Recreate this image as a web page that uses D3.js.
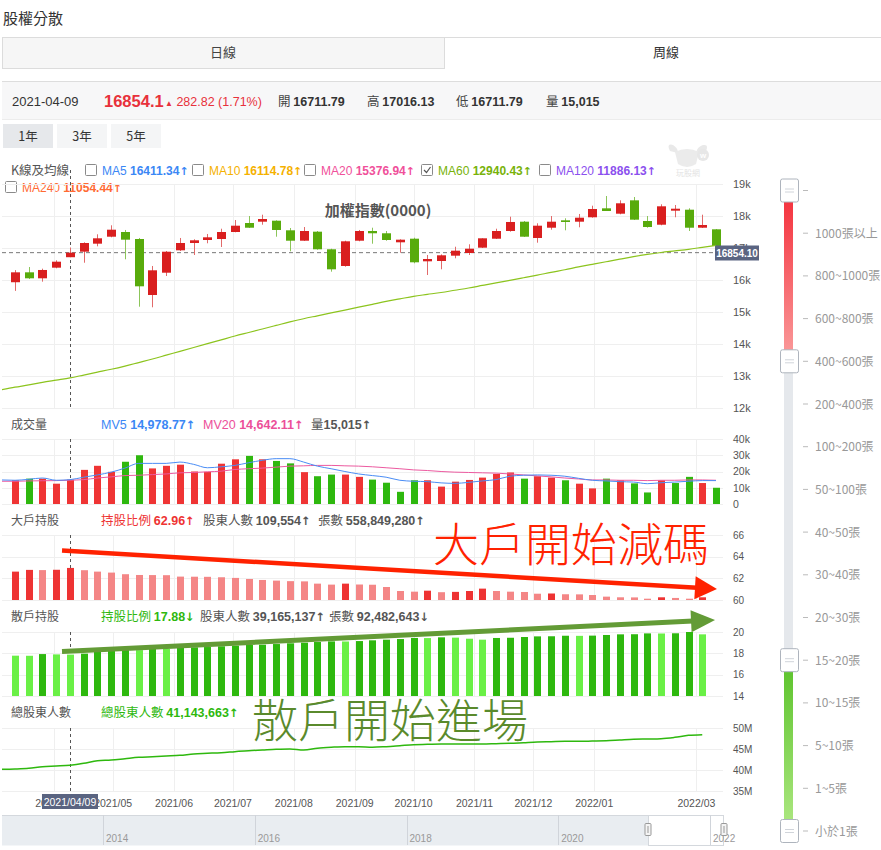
<!DOCTYPE html>
<html>
<head>
<meta charset="utf-8">
<script src="https://cdn.jsdelivr.net/npm/d3@7"></script>
<style>
  body { margin: 0; background: #fff; }
  svg { display: block; }
</style>
</head>
<body>
<svg id="chart" width="881" height="850"></svg>
<script>
// weekly data (Fridays). weeks[0] is the week just left of the zoom window
const weeks = [
  '2021/03/05', '2021/03/12', '2021/03/19', '2021/03/26', '2021/04/02', '2021/04/09', '2021/04/16',
  '2021/04/23', '2021/04/30', '2021/05/07', '2021/05/14', '2021/05/21', '2021/05/28', '2021/06/04',
  '2021/06/11', '2021/06/18', '2021/06/25', '2021/07/02', '2021/07/09', '2021/07/16', '2021/07/23',
  '2021/07/30', '2021/08/06', '2021/08/13', '2021/08/20', '2021/08/27', '2021/09/03', '2021/09/10',
  '2021/09/17', '2021/09/24', '2021/10/01', '2021/10/08', '2021/10/15', '2021/10/22', '2021/10/29',
  '2021/11/05', '2021/11/12', '2021/11/19', '2021/11/26', '2021/12/03', '2021/12/10', '2021/12/17',
  '2021/12/24', '2021/12/31', '2022/01/07', '2022/01/14', '2022/01/21', '2022/01/28', '2022/02/11',
  '2022/02/18', '2022/02/25', '2022/03/04', '2022/03/11'
];

// candles: weeks[1] .. weeks[52]
const candleOpen = [15930, 16240, 16053, 16385, 16711.79, 16885, 17135, 17353, 17500, 17281, 15531, 16228, 16928,
  17156, 17250, 17281, 17500, 17781, 17822, 17853, 17553, 17228, 17510, 16960, 16438, 17228, 17531, 17460, 17178,
  17291, 16584, 16594, 16760, 16844, 17010, 17290, 17531, 17822, 17313, 17634, 17865, 17822, 17960, 18240, 18072,
  18490, 17844, 17728, 18166, 18197, 17634, 17584];
const candleClose = [16240, 16053, 16313, 16572, 16854.1, 17156, 17303, 17572, 17260, 15803, 16303, 16884, 17156,
  17241, 17334, 17500, 17697, 17634, 17906, 17563, 17228, 17531, 16960, 16334, 17209, 17531, 17460, 17250, 17260,
  16553, 16656, 16772, 16916, 16978, 17303, 17531, 17813, 17353, 17697, 17822, 17813, 17947, 18219, 18156, 18397,
  17885, 17656, 18303, 18228, 17634, 17719, 17063];
const candleHigh = [16310, 16406, 16354, 16615, 17016.13, 17178, 17428, 17709, 17563, 17313, 16438, 16906, 17313,
  17272, 17438, 17603, 17875, 18000, 18041, 17865, 17625, 17656, 17531, 16978, 17228, 17563, 17634, 17531, 17272,
  17322, 16781, 16800, 17040, 17116, 17303, 17603, 17978, 17844, 17772, 18000, 17928, 18063, 18322, 18625, 18490,
  18594, 18000, 18366, 18344, 18241, 18041, 17594];
const candleLow = [15660, 16030, 15948, 16365, 16711.79, 16540, 17053, 17334, 16647, 15166, 15147, 16125, 16906,
  16781, 17147, 17031, 17490, 17625, 17728, 17353, 16897, 17219, 16947, 16260, 16416, 17209, 17134, 17228, 16853,
  16522, 16156, 16334, 16678, 16781, 17000, 17281, 17510, 17344, 17166, 17572, 17553, 17647, 17947, 18156, 18053,
  17875, 17634, 17709, 17960, 17531, 17625, 17053];

// MA60: weeks[0] .. weeks[52]
const ma60 = [12570, 12650, 12720, 12800, 12870, 12940, 13030, 13120, 13210, 13310, 13420, 13530, 13650, 13770,
  13890, 14010, 14130, 14250, 14360, 14470, 14580, 14690, 14790, 14880, 14970, 15060, 15150, 15240, 15330, 15410,
  15490, 15550, 15610, 15680, 15750, 15830, 15910, 15990, 16070, 16150, 16240, 16320, 16410, 16490, 16570, 16650,
  16730, 16800, 16860, 16910, 16960, 17020, 17080];

// volume (張): weeks[1] .. weeks[52]
const volume = [14600, 15600, 15600, 12500, 15015, 21000, 23500, 19800, 26000, 30000, 21900, 23500, 24200, 20000,
  19800, 24800, 27500, 29600, 27500, 26500, 25000, 19600, 17100, 18100, 18100, 16700, 15000, 13100, 7500, 14600,
  14600, 10700, 13750, 14800, 16250, 18500, 19400, 15600, 17100, 16250, 14600, 12500, 9600, 15600, 14600, 12700,
  7100, 14600, 12900, 16700, 12900, 10000];
const volSide = ['u', 'd', 'u', 'u', 'u', 'u', 'u', 'u', 'd', 'd', 'u', 'u', 'u', 'u', 'u', 'u', 'u', 'd', 'u', 'd',
  'd', 'u', 'd', 'd', 'u', 'u', 'd', 'd', 'd', 'd', 'u', 'u', 'u', 'u', 'u', 'u', 'u', 'd', 'u', 'u', 'd', 'u', 'u',
  'd', 'u', 'd', 'd', 'u', 'd', 'd', 'u', 'd'];
// MV5 / MV20: weeks[0] .. weeks[52]
const mv5 = [14800, 14600, 15200, 16000, 14600, 14979, 16500, 17900, 19600, 22100, 25000, 25000, 25000, 25800, 24400,
  22300, 22900, 23750, 25400, 26900, 27900, 27900, 25800, 23300, 21700, 20000, 18500, 17500, 16500, 14600, 14000,
  13750, 13000, 12700, 13300, 14200, 15000, 17100, 17700, 17900, 17700, 17100, 15800, 14600, 14200, 13750, 13500,
  12500, 13100, 13500, 14000, 14400, 14400];
const mv20 = [14000, 14000, 14200, 14300, 14400, 14642, 15000, 16000, 16700, 17500, 17700, 18100, 18500, 19200, 19400,
  19800, 20200, 21250, 21700, 22100, 22700, 23300, 23500, 23750, 23750, 23500, 23300, 22900, 22300, 21700, 21000,
  20600, 20000, 19600, 19400, 19200, 19000, 18500, 17900, 17300, 16700, 16000, 15400, 14800, 14800, 14600, 14600,
  14400, 14600, 14600, 14800, 14800, 14600];

// shareholding (%): weeks[0] .. weeks[51]
const bigPct = [62.50, 62.62, 62.78, 62.76, 62.79, 62.96, 62.75, 62.62, 62.53, 62.38, 62.31, 62.30, 62.29, 62.16,
  62.15, 62.14, 62.10, 62.04, 61.94, 61.85, 61.79, 61.74, 61.72, 61.51, 61.42, 61.51, 61.43, 61.41, 61.20, 60.83,
  60.77, 60.86, 60.72, 60.75, 60.83, 61.05, 60.83, 60.77, 60.74, 60.58, 60.60, 60.53, 60.52, 60.46, 60.31, 60.25,
  60.24, 60.12, 60.25, 60.19, 60.12, 60.25];
const smallPct = [17.85, 17.78, 17.77, 17.93, 17.90, 17.88, 17.97, 18.15, 18.25, 18.31, 18.30, 18.44, 18.43, 18.53,
  18.56, 18.59, 18.66, 18.72, 18.78, 18.81, 18.87, 18.94, 19.00, 19.06, 19.12, 19.11, 19.15, 19.22, 19.28, 19.34,
  19.44, 19.43, 19.50, 19.47, 19.37, 19.28, 19.44, 19.46, 19.53, 19.59, 19.60, 19.65, 19.64, 19.66, 19.72, 19.78,
  19.79, 19.87, 19.86, 19.88, 20.00, 19.78];
// total shareholders (millions): weeks[0] .. weeks[51]
const holders = [40.16, 40.24, 40.40, 40.79, 40.95, 41.14, 41.59, 42.22, 42.38, 42.70, 43.02, 43.17, 43.33, 43.49,
  43.81, 43.97, 44.13, 44.37, 44.60, 44.76, 44.92, 45.00, 44.76, 45.16, 45.40, 45.56, 45.56, 45.40, 45.56, 45.79,
  46.03, 46.11, 46.19, 46.19, 46.19, 46.19, 46.27, 46.35, 46.51, 46.67, 46.75, 46.83, 46.83, 46.90, 46.98, 47.14,
  47.30, 47.38, 47.46, 47.78, 48.25, 48.41];

const monthTicks = ['2021/04/01', '2021/05/01', '2021/06/01', '2021/07/01', '2021/08/01', '2021/09/01',
  '2021/10/01', '2021/11/01', '2021/12/01', '2022/01/01', '2022/03/01'];
const priceTicks = [12000, 13000, 14000, 15000, 16000, 17000, 18000, 19000];
const volTicks = [0, 10000, 20000, 30000, 40000];
const bigTicks = [60, 62, 64, 66];
const smallTicks = [14, 16, 18, 20];
const totalTicks = [35, 40, 45, 50];
const levelLabels = ['', '1000張以上', '800~1000張', '600~800張', '400~600張', '200~400張', '100~200張', '50~100張',
  '40~50張', '30~40張', '20~30張', '15~20張', '10~15張', '5~10張', '1~5張', '小於1張'];
const handleLevels = [0, 4, 11, 15];
const zoomYears = ['2014', '2016', '2018', '2020', '2022'];

const hoverWeek = '2021/04/09';
const hoverClose = 16854.1;

const FONT = '"Liberation Sans", Helvetica, Arial, "Noto Sans CJK TC", sans-serif';
const CJK = '"Noto Sans CJK TC", sans-serif';
const ARROW = 'DejaVu Sans';
const RED = '#d91f1f', GREEN = '#58ab0c';
const VOL_RED = '#ef3434', VOL_GREEN = '#2eb80e';
const GRID = '#efefef';
const SLATE = '#5a6481';

const svg = d3.select('#chart').style('font-family', FONT);
const defs = svg.append('defs');

// ---------- page header ----------
svg.append('text').attr('x', 3).attr('y', 24).text('股權分散')
  .style('font-family', CJK).style('font-size', '15px').attr('fill', '#333');

svg.append('rect').attr('x', 2.5).attr('y', 37.5).attr('width', 442).attr('height', 31)
  .attr('fill', '#f6f6f6').attr('stroke', '#dcdcdc');
svg.append('path').attr('d', 'M444.5,68 V37.5 H881').attr('fill', 'none').attr('stroke', '#dcdcdc');
svg.append('text').attr('x', 223).attr('y', 57).attr('text-anchor', 'middle').text('日線')
  .style('font-family', CJK).style('font-size', '13px').attr('fill', '#444');
svg.append('text').attr('x', 666).attr('y', 57).attr('text-anchor', 'middle').text('周線')
  .style('font-family', CJK).style('font-size', '13px').attr('fill', '#333');

svg.append('rect').attr('x', 2).attr('y', 81).attr('width', 879).attr('height', 38).attr('fill', '#f7f7f8');
svg.append('line').attr('x1', 2).attr('x2', 881).attr('y1', 81.5).attr('y2', 81.5).attr('stroke', '#dddddd');
svg.append('line').attr('x1', 2).attr('x2', 881).attr('y1', 119.5).attr('y2', 119.5).attr('stroke', '#ececec');

function richText(x, y, parts, size, family) {
  const t = svg.append('text').attr('x', x).attr('y', y)
    .style('font-size', size + 'px').style('font-family', family || FONT);
  parts.forEach(p => {
    t.append('tspan').text(p[0]).attr('fill', p[1] || '#333')
      .style('font-weight', p[2] || 'normal')
      .style('font-size', p[3] ? p[3] + 'px' : null)
      .style('font-family', p[4] || null);
  });
  return t;
}

richText(12, 106, [['2021-04-09', '#333']], 13);
richText(104, 107, [['16854.1', '#e8313b', 'bold', 16.5]], 16.5);
richText(165, 106, [['▲', '#e8313b', 'normal', 8], [' 282.82 (1.71%)', '#e8313b']], 12.5);
richText(278, 106, [['開 ', '#444', 'normal', null, CJK], ['16711.79', '#333', 'bold']], 12.5);
richText(367, 106, [['高 ', '#444', 'normal', null, CJK], ['17016.13', '#333', 'bold']], 12.5);
richText(456, 106, [['低 ', '#444', 'normal', null, CJK], ['16711.79', '#333', 'bold']], 12.5);
richText(546, 106, [['量 ', '#444', 'normal', null, CJK], ['15,015', '#333', 'bold']], 12.5);

[['1年', 3, '#e6e8eb'], ['3年', 57, '#f4f5f6'], ['5年', 111, '#f4f5f6']].forEach(([s, bx, fill]) => {
  svg.append('rect').attr('x', bx).attr('y', 124).attr('width', 50).attr('height', 24).attr('fill', fill);
  svg.append('text').attr('x', bx + 25).attr('y', 140.5).attr('text-anchor', 'middle').text(s)
    .style('font-family', CJK).style('font-size', '12.5px').attr('fill', '#333');
});

// watermark
const wm = svg.append('g').attr('transform', 'translate(690,160)').attr('opacity', 0.5);
wm.append('path').attr('d', 'M-20,-9 Q-24,-17 -17,-15 Q-12,-12 -12,-7 Z M6,-7 Q7,-13 13,-15 Q19,-16 16,-9 Z')
  .attr('fill', '#d4d4d4');
wm.append('path').attr('d', 'M-15,-8 Q-3,-14 9,-8 L6,4 Q-3,10 -12,4 Z').attr('fill', '#d8d8d8');
wm.append('circle').attr('cx', 13).attr('cy', -5).attr('r', 6).attr('fill', '#d0d0d0');
wm.append('text').attr('x', 13).attr('y', -2.5).attr('text-anchor', 'middle').text('w')
  .style('font-size', '8px').style('font-weight', 'bold').attr('fill', '#fff');
wm.append('text').attr('x', -2).attr('y', 16).attr('text-anchor', 'middle').text('玩股網')
  .style('font-family', CJK).style('font-size', '8px').attr('fill', '#c8c8c8');

// MA legend
function checkbox(cx, cy, checked) {
  svg.append('rect').attr('x', cx + 0.5).attr('y', cy + 0.5).attr('width', 11).attr('height', 11)
    .attr('fill', '#fff').attr('stroke', '#8a8a8a').attr('rx', 1);
  if (checked) {
    svg.append('path').attr('d', `M${cx + 3},${cy + 6} L${cx + 5.5},${cy + 8.5} L${cx + 9.5},${cy + 3}`)
      .attr('fill', 'none').attr('stroke', '#555').attr('stroke-width', 1.2);
  }
}
richText(11, 175, [['K線及均線', '#555']], 12.5, CJK);
const maLegend = [
  ['MA5', '16411.34', '#3b87f5', 85, 164, false],
  ['MA10', '16114.78', '#f5b100', 192, 164, false],
  ['MA20', '15376.94', '#f0509a', 304, 164, false],
  ['MA60', '12940.43', '#78b20a', 421, 164, true],
  ['MA120', '11886.13', '#8b50ee', 539, 164, false],
  ['MA240', '11054.44', '#ff6a33', 5, 181, false]
];
maLegend.forEach(([name, val, col, bx, by, chk]) => {
  checkbox(bx, by, chk);
  richText(bx + 17, by + 11, [[name + ' ', col], [val, col, 'bold'], ['↑', col, 'bold', 11, ARROW]], 12);
});

// ---------- scales ----------
const parseDay = d3.timeParse('%Y/%m/%d');
const weekIdx = d3.scaleLinear().domain(weeks.map(parseDay)).range(weeks.map((_, i) => i));
const x = d3.scaleLinear().domain([1, weeks.length - 1]).range([15, 716]);
const xOfDate = s => x(weekIdx(parseDay(s)));
const PL = 2, PR = 723;

const yPrice = d3.scaleLinear().domain([12000, 19000]).range([408, 184]);
const yVol = d3.scaleLinear().domain([0, 40000]).range([504, 439]);
const yBig = d3.scaleLinear().domain([60, 66]).range([600, 535]);
const ySmall = d3.scaleLinear().domain([14, 20]).range([696, 632]);
const yTotal = d3.scaleLinear().domain([35, 50]).range([791, 728]);

defs.append('clipPath').attr('id', 'plot-clip')
  .append('rect').attr('x', PL).attr('y', 150).attr('width', PR - PL).attr('height', 660);

const panels = [
  { y: yPrice, ticks: priceTicks, fmt: d => d / 1000 + 'k', size: 11 },
  { y: yVol, ticks: volTicks, fmt: d => d === 0 ? '0' : d / 1000 + 'k', size: 10.5 },
  { y: yBig, ticks: bigTicks, fmt: d => d, size: 10 },
  { y: ySmall, ticks: smallTicks, fmt: d => d, size: 10 },
  { y: yTotal, ticks: totalTicks, fmt: d => d + 'M', size: 10 }
];

const gridG = svg.append('g');
const crossX = xOfDate(hoverWeek);
panels.forEach(p => {
  const [y0, y1] = p.y.range();
  gridG.append('g').selectAll('line').data(p.ticks).join('line')
    .attr('x1', PL).attr('x2', PR)
    .attr('y1', d => Math.round(p.y(d)) + 0.5).attr('y2', d => Math.round(p.y(d)) + 0.5)
    .attr('stroke', GRID);
  gridG.append('g').selectAll('line').data(monthTicks).join('line')
    .attr('x1', d => Math.round(xOfDate(d)) + 0.5).attr('x2', d => Math.round(xOfDate(d)) + 0.5)
    .attr('y1', y1).attr('y2', y0)
    .attr('stroke', GRID);
  const axis = d3.axisRight(p.y).tickValues(p.ticks).tickSize(0).tickPadding(10).tickFormat(p.fmt);
  const ag = svg.append('g').attr('transform', `translate(${PR},0)`).call(axis);
  ag.select('.domain').remove();
  ag.selectAll('text').attr('fill', '#555').style('font-size', p.size + 'px').style('font-family', FONT);
  gridG.append('line').attr('x1', Math.round(crossX) + 0.5).attr('x2', Math.round(crossX) + 0.5)
    .attr('y1', p === panels[0] ? 170 : y1).attr('y2', y0)
    .attr('stroke', '#555').attr('stroke-dasharray', '3,3');
});

const plot = svg.append('g').attr('clip-path', 'url(#plot-clip)');

// ---------- K line ----------
const candles = candleOpen.map((o, i) => ({ i: i + 1, o, c: candleClose[i], h: candleHigh[i], l: candleLow[i] }));
plot.append('line')
  .attr('x1', PL).attr('x2', 715).attr('y1', yPrice(hoverClose)).attr('y2', yPrice(hoverClose))
  .attr('stroke', '#777').attr('stroke-dasharray', '4,3');
plot.append('g').selectAll('line').data(candles).join('line')
  .attr('x1', d => Math.round(x(d.i)) + 0.5).attr('x2', d => Math.round(x(d.i)) + 0.5)
  .attr('y1', d => yPrice(d.h)).attr('y2', d => yPrice(d.l))
  .attr('stroke', d => d.c >= d.o ? '#e26a6a' : '#8cc55a');
plot.append('g').selectAll('rect').data(candles).join('rect')
  .attr('x', d => Math.round(x(d.i)) - 4).attr('width', 9)
  .attr('y', d => yPrice(Math.max(d.o, d.c)))
  .attr('height', d => Math.max(1.5, Math.abs(yPrice(d.o) - yPrice(d.c))))
  .attr('fill', d => d.c >= d.o ? RED : GREEN);
plot.append('path').datum(ma60)
  .attr('d', d3.line().x((d, i) => x(i)).y(d => yPrice(d)).curve(d3.curveMonotoneX))
  .attr('fill', 'none').attr('stroke', '#8cc41e').attr('stroke-width', 1.2);

svg.append('text').attr('x', 378).attr('y', 216).attr('text-anchor', 'middle').text('加權指數(0000)')
  .style('font-family', CJK).style('font-size', '15px').style('font-weight', 'bold').attr('fill', '#555');

svg.append('rect').attr('x', 715).attr('y', 245.5).attr('width', 44).attr('height', 15).attr('fill', SLATE);
svg.append('text').attr('x', 737).attr('y', 256.5).attr('text-anchor', 'middle').text(hoverClose.toFixed(2))
  .style('font-size', '10px').style('font-weight', 'bold').attr('fill', '#fff');

// ---------- volume ----------
richText(11, 429, [['成交量', '#555']], 12, CJK);
richText(101, 429, [['MV5 ', '#3b87f5'], ['14,978.77', '#3b87f5', 'bold'], ['↑', '#3b87f5', 'bold', 11.5, ARROW]], 12.5);
richText(203, 429, [['MV20 ', '#ec4f99'], ['14,642.11', '#ec4f99', 'bold'], ['↑', '#ec4f99', 'bold', 11.5, ARROW]], 12.5);
richText(311, 429, [['量', '#555', 'normal', null, CJK], ['15,015', '#555', 'bold'], ['↑', '#555', 'bold', 11.5, ARROW]], 12.5);

plot.append('g').selectAll('rect').data(volume.map((v, i) => ({ i: i + 1, v, s: volSide[i] }))).join('rect')
  .attr('x', d => Math.round(x(d.i)) - 3).attr('width', 7)
  .attr('y', d => yVol(d.v)).attr('height', d => yVol(0) - yVol(d.v))
  .attr('fill', d => d.s === 'u' ? VOL_RED : VOL_GREEN);
plot.append('path').datum(mv20)
  .attr('d', d3.line().x((d, i) => x(i)).y(d => yVol(d)).curve(d3.curveMonotoneX))
  .attr('fill', 'none').attr('stroke', '#ec5aa0').attr('stroke-width', 1);
plot.append('path').datum(mv5)
  .attr('d', d3.line().x((d, i) => x(i)).y(d => yVol(d)).curve(d3.curveMonotoneX))
  .attr('fill', 'none').attr('stroke', '#4a8df5').attr('stroke-width', 1);

// ---------- big holders ----------
richText(11, 525, [['大戶持股', '#555']], 12, CJK);
richText(101, 525, [['持股比例 ', '#ee3333', 'normal', null, CJK], ['62.96', '#ee3333', 'bold'], ['↑', '#ee3333', 'bold', 11.5, ARROW]], 12.5);
richText(203, 525, [['股東人數 ', '#555', 'normal', null, CJK], ['109,554', '#555', 'bold'], ['↑', '#555', 'bold', 11.5, ARROW]], 12.5);
richText(318, 525, [['張數 ', '#555', 'normal', null, CJK], ['558,849,280', '#555', 'bold'], ['↑', '#555', 'bold', 11.5, ARROW]], 12.5);

plot.append('g').selectAll('rect').data(bigPct.map((v, i) => ({ i, v })).slice(1)).join('rect')
  .attr('x', d => Math.round(x(d.i)) - 3).attr('width', 7)
  .attr('y', d => yBig(d.v)).attr('height', d => yBig(60) - yBig(d.v))
  .attr('fill', d => d.v >= bigPct[d.i - 1] ? '#ee3333' : '#f48686');

// ---------- small holders ----------
richText(11, 621, [['散戶持股', '#555']], 12, CJK);
richText(101, 621, [['持股比例 ', '#2eb80e', 'normal', null, CJK], ['17.88', '#2eb80e', 'bold'], ['↓', '#2eb80e', 'bold', 11.5, ARROW]], 12.5);
richText(200, 621, [['股東人數 ', '#555', 'normal', null, CJK], ['39,165,137', '#555', 'bold'], ['↑', '#555', 'bold', 11.5, ARROW]], 12.5);
richText(329, 621, [['張數 ', '#555', 'normal', null, CJK], ['92,482,643', '#555', 'bold'], ['↓', '#555', 'bold', 11.5, ARROW]], 12.5);

plot.append('g').selectAll('rect').data(smallPct.map((v, i) => ({ i, v })).slice(1)).join('rect')
  .attr('x', d => Math.round(x(d.i)) - 3).attr('width', 7)
  .attr('y', d => ySmall(d.v)).attr('height', d => ySmall(14) - ySmall(d.v))
  .attr('fill', d => d.v >= smallPct[d.i - 1] ? '#2eb80e' : '#6af046');

// ---------- total holders ----------
richText(11, 717, [['總股東人數', '#555']], 12, CJK);
richText(101, 717, [['總股東人數 ', '#2eb80e', 'normal', null, CJK], ['41,143,663', '#2eb80e', 'bold'], ['↑', '#2eb80e', 'bold', 11.5, ARROW]], 12.5);
plot.append('path').datum(holders)
  .attr('d', d3.line().x((d, i) => x(i)).y(d => yTotal(d)).curve(d3.curveMonotoneX))
  .attr('fill', 'none').attr('stroke', '#2eb80e').attr('stroke-width', 1.5);

// ---------- x axis ----------
svg.append('g').selectAll('text').data(monthTicks).join('text')
  .attr('x', d => xOfDate(d)).attr('y', 807).attr('text-anchor', 'middle')
  .text(d => d.slice(0, 7))
  .style('font-size', '10.5px').attr('fill', '#555');
svg.append('rect').attr('x', crossX - 28).attr('y', 794).attr('width', 56).attr('height', 15).attr('fill', SLATE);
svg.append('text').attr('x', crossX).attr('y', 805.5).attr('text-anchor', 'middle').text(hoverWeek)
  .style('font-size', '10.5px').attr('fill', '#fff');

// ---------- data zoom strip ----------
const zx = d3.scaleLinear().domain([2014, 2022]).range([103, 710]);
svg.append('rect').attr('x', 2).attr('y', 815.5).attr('width', 646).attr('height', 30).attr('fill', '#e9edf1');
svg.append('line').attr('x1', 2).attr('x2', 724).attr('y1', 815.5).attr('y2', 815.5).attr('stroke', '#d4d8dd');
svg.append('rect').attr('x', 648.5).attr('y', 815.5).attr('width', 75).attr('height', 30)
  .attr('fill', 'none').attr('stroke', '#d4d8dd');
svg.append('g').selectAll('line').data(zoomYears).join('line')
  .attr('x1', d => Math.round(zx(+d)) + 0.5).attr('x2', d => Math.round(zx(+d)) + 0.5)
  .attr('y1', 815).attr('y2', 845).attr('stroke', '#d0d4da');
svg.append('g').selectAll('text').data(zoomYears).join('text')
  .attr('x', d => zx(+d) + 3).attr('y', 842).text(d => d)
  .style('font-size', '10px').attr('fill', '#999');
[648, 724].forEach(hx => {
  svg.append('rect').attr('x', hx - 3).attr('y', 823.5).attr('width', 6).attr('height', 12)
    .attr('fill', '#f4f4f4').attr('stroke', '#999').attr('rx', 1);
  svg.append('line').attr('x1', hx).attr('x2', hx).attr('y1', 826).attr('y2', 833).attr('stroke', '#999');
});

// ---------- right level slider ----------
const ly = d3.scalePoint().domain(d3.range(levelLabels.length)).range([190.5, 831]);
const redGrad = defs.append('linearGradient').attr('id', 'grad-red').attr('x1', 0).attr('x2', 0).attr('y1', 0).attr('y2', 1);
redGrad.append('stop').attr('offset', '0%').attr('stop-color', '#f42d39');
redGrad.append('stop').attr('offset', '100%').attr('stop-color', '#fa9d9d');
const greenGrad = defs.append('linearGradient').attr('id', 'grad-green').attr('x1', 0).attr('x2', 0).attr('y1', 0).attr('y2', 1);
greenGrad.append('stop').attr('offset', '0%').attr('stop-color', '#5ac22a');
greenGrad.append('stop').attr('offset', '100%').attr('stop-color', '#afe883');

svg.append('rect').attr('x', 784).attr('y', ly(0)).attr('width', 9).attr('height', ly(15) - ly(0)).attr('fill', '#e5e8ec');
svg.append('rect').attr('x', 784).attr('y', ly(handleLevels[0])).attr('width', 9)
  .attr('height', ly(handleLevels[1]) - ly(handleLevels[0])).attr('fill', 'url(#grad-red)');
svg.append('rect').attr('x', 784).attr('y', ly(handleLevels[2])).attr('width', 9)
  .attr('height', ly(handleLevels[3]) - ly(handleLevels[2])).attr('fill', 'url(#grad-green)');

svg.append('g').selectAll('line').data(levelLabels.map((s, i) => i)).join('line')
  .attr('x1', 803).attr('x2', 808).attr('y1', d => ly(d)).attr('y2', d => ly(d)).attr('stroke', '#bbb');
svg.append('g').selectAll('text').data(levelLabels.map((s, i) => ({ s, i }))).join('text')
  .attr('x', 815).attr('y', d => ly(d.i) + 4.5).text(d => d.s)
  .style('font-family', CJK).style('font-size', '12px').attr('fill', '#999');

handleLevels.forEach(lv => {
  const hy = ly(lv);
  svg.append('rect').attr('x', 780.5).attr('y', hy - 11.5).attr('width', 18).attr('height', 23)
    .attr('fill', '#fff').attr('stroke', '#aeb4bd').attr('rx', 2);
  svg.append('path').attr('d', `M785,${hy - 1.5} H794 M785,${hy + 1.5} H794`)
    .attr('stroke', '#d0d4da').attr('stroke-width', 1);
});

// ---------- hand-drawn annotations ----------
function arrow(x1, y1, x2, y2, color, width, headLen, headHalf) {
  const dx = x2 - x1, dy = y2 - y1, len = Math.hypot(dx, dy);
  const ux = dx / len, uy = dy / len;
  const bx = x2 - ux * headLen, by = y2 - uy * headLen;
  svg.append('line').attr('x1', x1).attr('y1', y1).attr('x2', bx + ux * 2).attr('y2', by + uy * 2)
    .attr('stroke', color).attr('stroke-width', width);
  svg.append('path')
    .attr('d', `M${x2},${y2} L${bx - uy * headHalf},${by + ux * headHalf} L${bx + uy * headHalf},${by - ux * headHalf} Z`)
    .attr('fill', color);
}
arrow(x(4.42), yBig(64.57), x(52.07), yBig(61.02), '#ff2200', 4.5, 22, 11.5);
arrow(x(4.42), ySmall(18.17), x(51.93), ySmall(21.12), '#639b36', 5, 24, 11);

svg.append('text').attr('x', 433).attr('y', 561).text('大戶開始減碼')
  .style('font-family', CJK).style('font-size', '46px').style('font-weight', 300).attr('fill', '#ff2200');
svg.append('text').attr('x', 252).attr('y', 737).text('散戶開始進場')
  .style('font-family', CJK).style('font-size', '46px').style('font-weight', 300).attr('fill', '#5a8a2c');
</script>
</body>
</html>
